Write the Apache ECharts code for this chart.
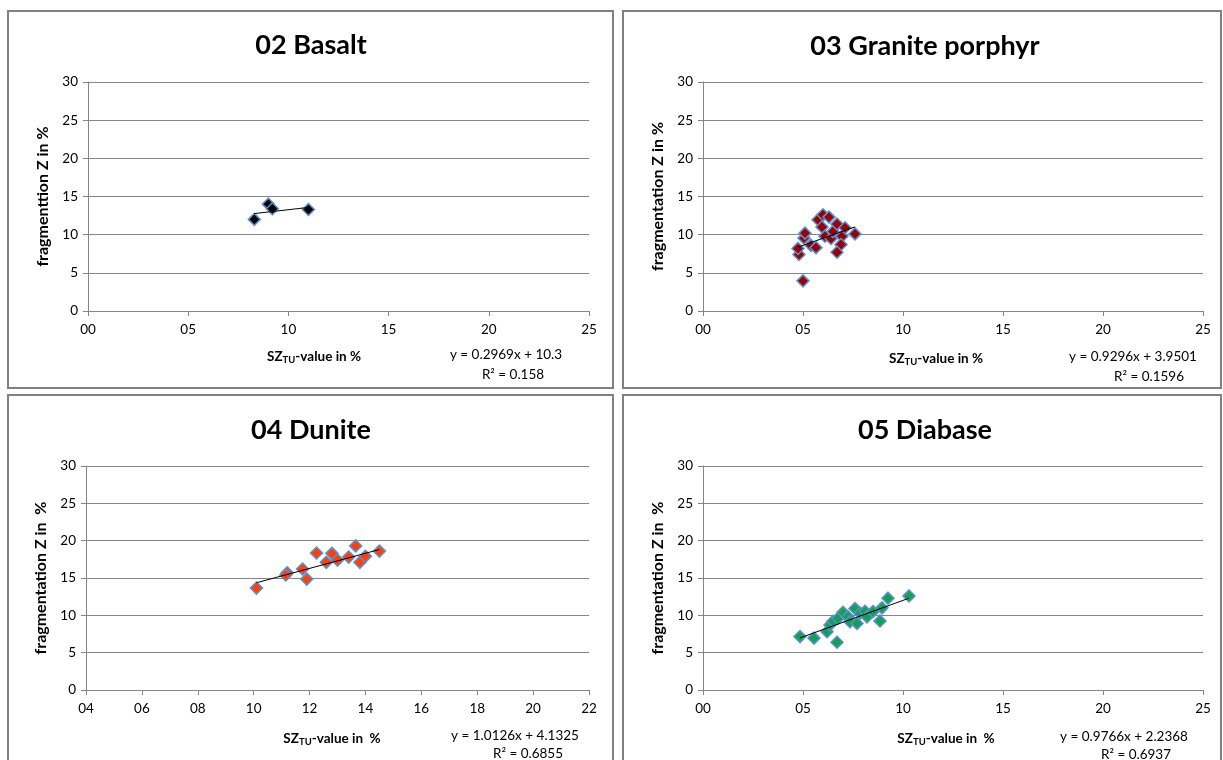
<!DOCTYPE html>
<html>
<head>
<meta charset="utf-8">
<title>Fragmentation vs SZ_TU</title>
<script src="https://cdn.jsdelivr.net/npm/echarts@6/dist/echarts.min.js"></script>
<style>
  html, body { margin: 0; padding: 0; background: #ffffff; }
  #chart { width: 1223px; height: 760px; }
</style>
</head>
<body>
<div id="chart"></div>
<script>
// ---- Measured values (SZ_TU-value in %, fragmentation Z in %) ----
const basaltX = [8.3, 9.0, 9.2, 11.0];
const basaltY = [12.0, 14.0, 13.4, 13.3];

const graniteX = [5.0, 4.8, 4.75, 5.05, 5.1, 5.4, 5.65, 5.75, 6.0, 6.3, 5.95, 6.1, 6.4, 6.5, 6.7, 6.95, 6.9, 6.7, 7.1, 7.6];
const graniteY = [3.95, 7.4, 8.2, 9.55, 10.2, 8.6, 8.3, 11.95, 12.6, 12.3, 11.0, 9.8, 9.5, 10.4, 11.4, 9.8, 8.7, 7.7, 10.9, 10.1];

const duniteX = [10.1, 11.2, 11.15, 11.75, 11.9, 12.25, 12.6, 12.8, 13.0, 13.4, 13.65, 13.8, 14.0, 14.5];
const duniteY = [13.65, 15.7, 15.4, 16.2, 14.85, 18.35, 17.1, 18.3, 17.4, 17.8, 19.3, 17.1, 17.9, 18.6];

const diabaseX = [4.85, 5.55, 6.2, 6.7, 6.35, 6.5, 6.75, 7.0, 7.25, 7.35, 7.6, 7.7, 7.85, 8.1, 8.2, 8.5, 8.85, 8.95, 9.25, 10.3];
const diabaseY = [7.15, 6.95, 7.8, 6.4, 8.7, 9.2, 9.6, 10.4, 9.8, 9.15, 10.9, 8.9, 10.3, 10.55, 9.8, 10.5, 9.25, 11.0, 12.3, 12.6];

// ---- Linear trend lines (y = slope * x + intercept) and their R² ----
const trendSlope     = [0.2969, 0.9296, 1.0126, 0.9766];
const trendIntercept = [10.3, 3.9501, 4.1325, 2.2368];
const trendR2        = ['0.158', '0.1596', '0.6855', '0.6937'];

// ---- Text ----
const titles = ['02 Basalt', '03 Granite porphyr', '04 Dunite', '05 Diabase'];
const yNames = ['fragmenttion Z in %', 'fragmentation Z in %', 'fragmentation Z in  %', 'fragmentation Z in  %'];
const xNameTails = ['-value in %', '-value in %', '-value in  %', '-value in  %'];

// ---- Axis ranges ----
const xRanges = [[0, 25, 5], [0, 25, 5], [4, 22, 2], [0, 25, 5]];
const yRange = [0, 30, 5];

// ---- Layout of the four panels ----
const panels = [
  { frame: [8, 11, 605, 377],  grid: { left: 88,  top: 82,  width: 501, height: 229 }, title: [311, 45],  xName: [314, 357], eq: [506, 355], r2: [513, 375] },
  { frame: [623, 11, 598, 377], grid: { left: 703, top: 82,  width: 500, height: 229 }, title: [925, 46],  xName: [936, 359], eq: [1133, 357], r2: [1149, 377] },
  { frame: [8, 395, 605, 380],  grid: { left: 86,  top: 466, width: 503, height: 224 }, title: [311, 430], xName: [332, 739], eq: [515, 736], r2: [528, 754] },
  { frame: [623, 395, 598, 380], grid: { left: 703, top: 466, width: 500, height: 224 }, title: [925, 430], xName: [946, 739], eq: [1124, 737], r2: [1136, 755] }
];

const seriesX = [basaltX, graniteX, duniteX, diabaseX];
const seriesY = [basaltY, graniteY, duniteY, diabaseY];
const markerFill = ['#000000', '#990000', '#ff4000', '#14a050'];
const markerEdge = '#5a8fd0';
const FONT = 'Lato, "Open Sans", sans-serif';
const axisGray = '#868686';

const pad2 = v => (v < 10 ? '0' : '') + v;

const grids = [], xAxes = [], yAxes = [], series = [], graphics = [];

panels.forEach((p, i) => {
  grids.push(p.grid);

  const [xmin, xmax, xstep] = xRanges[i];
  xAxes.push({
    gridIndex: i, type: 'value', min: xmin, max: xmax, interval: xstep,
    axisLine: { show: true, onZero: false, lineStyle: { color: axisGray, width: 1 } },
    axisTick: { show: true, length: 5, lineStyle: { color: axisGray } },
    splitLine: { show: false },
    axisLabel: { formatter: pad2, color: '#000', fontFamily: FONT, fontSize: 13.5, margin: 12 }
  });

  yAxes.push({
    gridIndex: i, type: 'value', min: yRange[0], max: yRange[1], interval: yRange[2],
    name: yNames[i], nameLocation: 'middle', nameGap: 37, nameRotate: 90,
    nameTextStyle: { fontFamily: FONT, fontWeight: 'bold', fontSize: 16, color: '#000' },
    axisLine: { show: true, lineStyle: { color: axisGray, width: 1 } },
    axisTick: { show: true, length: 5, lineStyle: { color: axisGray } },
    splitLine: { show: true, lineStyle: { color: axisGray, width: 1 } },
    axisLabel: { color: '#000', fontFamily: FONT, fontSize: 13.5, margin: 10 }
  });

  const xs = seriesX[i], ys = seriesY[i];
  series.push({
    type: 'scatter', xAxisIndex: i, yAxisIndex: i,
    symbol: 'diamond', symbolSize: 12,
    itemStyle: { color: markerFill[i], opacity: 1, borderColor: markerEdge, borderWidth: 1.5 },
    data: xs.map((x, k) => [x, ys[k]]),
    z: 2
  });

  // Trend line spans the observed x range
  const lo = Math.min(...xs), hi = Math.max(...xs);
  series.push({
    type: 'line', xAxisIndex: i, yAxisIndex: i,
    symbol: 'none', silent: true,
    lineStyle: { color: '#000', width: 1 },
    data: [[lo, trendSlope[i] * lo + trendIntercept[i]], [hi, trendSlope[i] * hi + trendIntercept[i]]],
    z: 3
  });

  // Panel frame
  const [fx, fy, fw, fh] = p.frame;
  graphics.push({
    type: 'rect', shape: { x: fx, y: fy, width: fw, height: fh },
    style: { fill: 'none', stroke: '#808080', lineWidth: 2 }, z: 0, silent: true
  });

  // Title
  graphics.push({
    type: 'text', x: p.title[0], y: p.title[1],
    style: { text: titles[i], font: 'bold 27px ' + FONT, fill: '#000', align: 'center', verticalAlign: 'middle' }
  });

  // X axis name with subscript
  graphics.push({
    type: 'text', x: p.xName[0], y: p.xName[1],
    style: {
      text: '{b|SZ}{s|TU}{b|' + xNameTails[i] + '}',
      align: 'center', verticalAlign: 'middle',
      rich: {
        b: { fontFamily: FONT, fontWeight: 'bold', fontSize: 13.5, fill: '#000', lineHeight: 16 },
        s: { fontFamily: FONT, fontWeight: 'bold', fontSize: 9.5, fill: '#000', lineHeight: 8, verticalAlign: 'bottom' }
      }
    }
  });

  // Regression equation and R²
  graphics.push({
    type: 'text', x: p.eq[0], y: p.eq[1],
    style: { text: 'y = ' + trendSlope[i] + 'x + ' + trendIntercept[i], font: '13.5px ' + FONT, fill: '#000', align: 'center', verticalAlign: 'middle' }
  });
  graphics.push({
    type: 'text', x: p.r2[0], y: p.r2[1],
    style: { text: 'R² = ' + trendR2[i], font: '13.5px ' + FONT, fill: '#000', align: 'center', verticalAlign: 'middle' }
  });
});

const chart = echarts.init(document.getElementById('chart'), null, { renderer: 'canvas' });
chart.setOption({
  backgroundColor: '#ffffff',
  animation: false,
  grid: grids,
  xAxis: xAxes,
  yAxis: yAxes,
  series: series,
  graphic: graphics
});
</script>
</body>
</html>
